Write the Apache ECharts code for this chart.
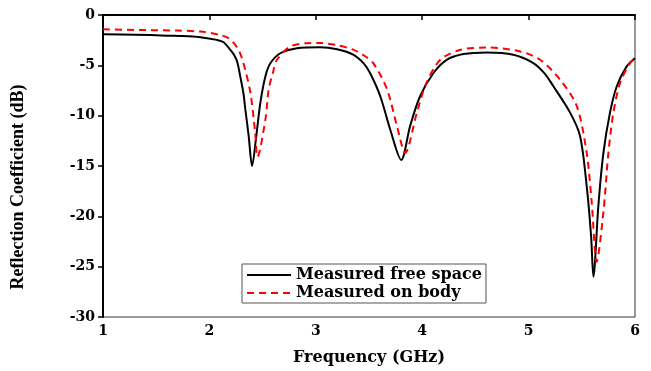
<!DOCTYPE html>
<html>
<head>
<meta charset="utf-8">
<script src="https://cdn.jsdelivr.net/npm/echarts@6/dist/echarts.min.js"></script>
<style>
  html, body { margin: 0; padding: 0; background: #fff; }
  #main { width: 651px; height: 371px; }
</style>
</head>
<body>
<div id="main"></div>
<script>
// Measured free space: [frequency GHz, dB]
var freeSpace = [
  [1.0, -1.9], [1.3, -1.95], [1.6, -2.05], [1.75, -2.08], [1.915, -2.2], [2.07, -2.47],
  [2.134, -2.7], [2.197, -3.46], [2.228, -3.9], [2.26, -4.6], [2.29, -6.1], [2.32, -7.8],
  [2.338, -9.4], [2.369, -12.0], [2.401, -15.0], [2.441, -12.0], [2.479, -8.7],
  [2.526, -6.1], [2.573, -4.8], [2.667, -3.8], [2.823, -3.3], [3.04, -3.2],
  [3.2, -3.4], [3.355, -3.95], [3.45, -4.8], [3.51, -5.76], [3.606, -8.07], [3.70, -11.4],
  [3.803, -14.4], [3.887, -11.0], [3.98, -8.07], [4.106, -5.76], [4.23, -4.45],
  [4.388, -3.88], [4.607, -3.72], [4.857, -3.95], [5.045, -4.77], [5.15, -5.8],
  [5.233, -7.08], [5.39, -9.7], [5.483, -12.0], [5.546, -17.0], [5.587, -21.9],
  [5.609, -26.0], [5.656, -18.9], [5.703, -13.7], [5.765, -9.7], [5.828, -7.1],
  [5.922, -5.1], [6.0, -4.3]
];
// Measured on body: [frequency GHz, dB]
var onBody = [
  [1.0, -1.42], [1.4, -1.5], [1.7, -1.55], [1.915, -1.65], [2.10, -1.98], [2.18, -2.3],
  [2.23, -2.8], [2.28, -3.6], [2.32, -4.8], [2.385, -7.7], [2.43, -11.7], [2.452, -14.1],
  [2.526, -10.4], [2.557, -7.4], [2.60, -5.6], [2.635, -4.45], [2.76, -3.13],
  [2.917, -2.8], [3.04, -2.78], [3.2, -3.0], [3.355, -3.46], [3.45, -4.0], [3.54, -4.78],
  [3.67, -7.4], [3.762, -11.0], [3.84, -13.7], [3.95, -9.7], [4.04, -6.75], [4.17, -4.45],
  [4.36, -3.46], [4.607, -3.23], [4.92, -3.62], [5.108, -4.45], [5.296, -6.42],
  [5.453, -9.06], [5.546, -13.7], [5.593, -18.6], [5.64, -24.5], [5.703, -19.6],
  [5.75, -13.7], [5.797, -9.7], [5.86, -6.75], [5.953, -4.78], [6.0, -4.4]
];
var seriesNames = ['Measured free space', 'Measured on body'];
var xTicks = [1, 2, 3, 4, 5, 6];
var yTicks = [0, -5, -10, -15, -20, -25, -30];

var myChart = echarts.init(document.getElementById('main'));
var labelFont = {
  color: '#000',
  fontFamily: 'DejaVu Serif',
  fontWeight: 'bold',
  fontSize: 14
};
var option = {
  backgroundColor: '#fff',
  animation: false,
  grid: {
    left: 103, right: 16, top: 15, bottom: 53,
    show: true, borderColor: '#333', borderWidth: 1
  },
  legend: {
    data: seriesNames,
    orient: 'vertical',
    left: 242, top: 264,
    padding: [3, 4, 2, 4],
    itemGap: 2,
    itemWidth: 44, itemHeight: 16,
    borderColor: '#555', borderWidth: 1,
    backgroundColor: '#fff',
    itemStyle: { opacity: 0 },
    textStyle: { color: '#000', fontFamily: 'DejaVu Serif', fontWeight: 'bold', fontSize: 16 }
  },
  xAxis: {
    type: 'value',
    min: 1, max: 6, interval: 1,
    name: 'Frequency (GHz)',
    nameLocation: 'middle',
    nameGap: 33,
    nameTextStyle: { color: '#000', fontFamily: 'DejaVu Serif', fontWeight: 'bold', fontSize: 16 },
    axisLine: { lineStyle: { color: '#000', width: 2 } },
    axisTick: { length: 5, lineStyle: { color: '#000', width: 1.5 } },
    axisLabel: Object.assign({ margin: 7, formatter: function (v) { return xTicks.indexOf(v) >= 0 ? v : ''; } }, labelFont),
    splitLine: { show: false }
  },
  yAxis: {
    type: 'value',
    min: -30, max: 0, interval: 5,
    name: 'Reflection Coefficient (dB)',
    nameLocation: 'middle',
    nameGap: 76,
    nameTextStyle: { color: '#000', fontFamily: 'Liberation Serif', fontWeight: 'bold', fontSize: 18, padding: [0, 42, 0, 0] },
    axisLine: { lineStyle: { color: '#000', width: 2 } },
    axisTick: { length: 5, lineStyle: { color: '#000', width: 1.5 } },
    axisLabel: Object.assign({ margin: 8, formatter: function (v) { return yTicks.indexOf(v) >= 0 ? v : ''; } }, labelFont),
    splitLine: { show: false }
  },
  series: [
    {
      name: seriesNames[0],
      type: 'line',
      data: freeSpace,
      showSymbol: false,
      symbol: 'none',
      smooth: 0.3,
      itemStyle: { color: '#000' },
      lineStyle: { color: '#000', width: 2 },
      z: 2
    },
    {
      name: seriesNames[1],
      type: 'line',
      data: onBody,
      showSymbol: false,
      symbol: 'none',
      smooth: 0.3,
      itemStyle: { color: '#ff0000' },
      lineStyle: { color: '#ff0000', width: 2, type: [7, 5] },
      z: 3
    }
  ]
};
myChart.setOption(option);
</script>
</body>
</html>
